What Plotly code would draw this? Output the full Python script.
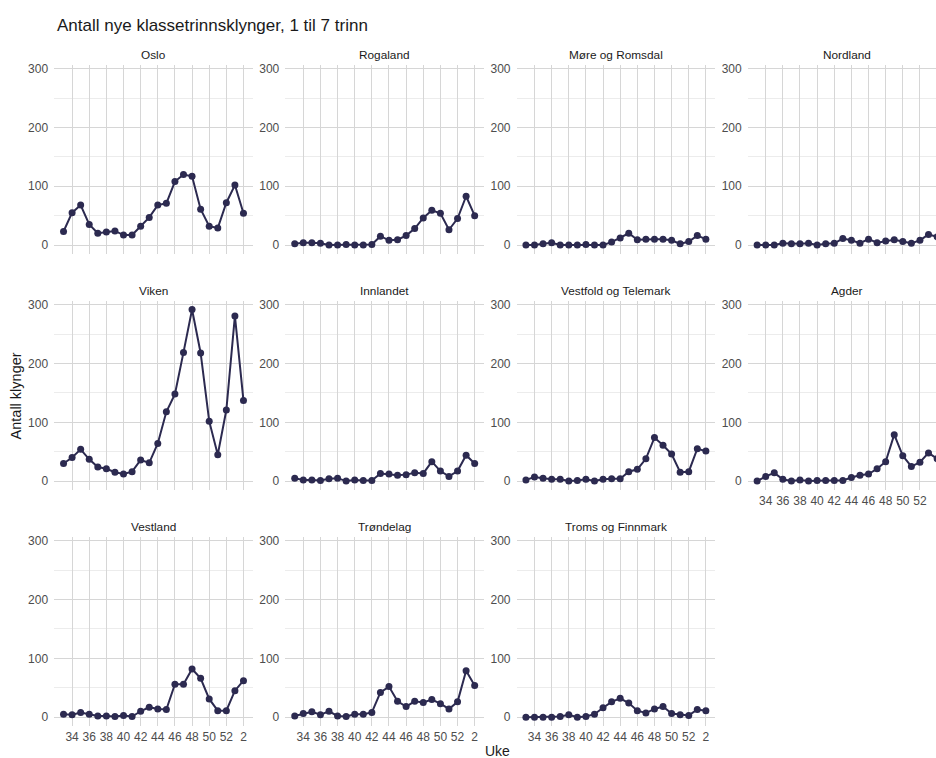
import plotly.graph_objects as go

# ---- data ----
weeks = ["33", "34", "35", "36", "37", "38", "39", "40", "41", "42", "43",
         "44", "45", "46", "47", "48", "49", "50", "51", "52", "1", "2"]
tick_weeks = ["34", "36", "38", "40", "42", "44", "46", "48", "50", "52", "2"]

regions = ["Oslo", "Rogaland", "Møre og Romsdal", "Nordland",
           "Viken", "Innlandet", "Vestfold og Telemark", "Agder",
           "Vestland", "Trøndelag", "Troms og Finnmark"]

oslo = [23, 55, 68, 35, 20, 22, 24, 17, 17, 32, 47, 68, 71, 108, 120, 117, 61, 32, 29, 72, 102, 54]
rogaland = [2, 4, 4, 3, 0, 0, 1, 0, 0, 1, 15, 8, 9, 16, 28, 46, 59, 54, 26, 45, 83, 50]
more_romsdal = [0, 0, 2, 4, 0, 0, 0, 1, 0, 0, 5, 12, 20, 9, 10, 10, 10, 8, 2, 6, 16, 10]
nordland = [0, 0, 0, 3, 2, 2, 3, 0, 2, 3, 11, 8, 3, 10, 4, 7, 9, 6, 3, 8, 18, 14]
viken = [30, 40, 54, 37, 24, 21, 15, 12, 16, 36, 31, 64, 118, 148, 219, 292, 218, 102, 45, 121, 281, 137]
innlandet = [5, 2, 2, 1, 4, 5, 0, 2, 1, 1, 13, 12, 10, 11, 14, 13, 33, 17, 8, 17, 44, 30]
vestfold_telemark = [2, 7, 5, 3, 3, 0, 1, 3, 0, 3, 4, 4, 16, 20, 38, 74, 61, 46, 15, 16, 55, 51]
agder = [0, 8, 14, 3, 0, 2, 0, 1, 1, 1, 1, 6, 10, 12, 21, 33, 79, 43, 25, 32, 48, 38]
vestland = [5, 4, 8, 5, 2, 2, 1, 3, 1, 10, 17, 14, 13, 56, 56, 82, 66, 31, 11, 11, 45, 62]
trondelag = [2, 6, 9, 4, 10, 2, 1, 5, 5, 8, 42, 52, 27, 18, 27, 25, 30, 23, 14, 26, 79, 54]
troms_finnmark = [0, 0, 0, 0, 1, 4, 0, 1, 5, 16, 26, 32, 24, 11, 7, 14, 18, 6, 4, 3, 13, 11]

series = [oslo, rogaland, more_romsdal, nordland, viken, innlandet,
          vestfold_telemark, agder, vestland, trondelag, troms_finnmark]

title_text = "Antall nye klassetrinnsklynger, 1 til 7 trinn"
y_title = "Antall klynger"
x_title = "Uke"

# ---- layout geometry (pixels) ----
W, H = 936, 758
col_centers = [153.5, 384.7, 615.9, 847.1]
half_w = 99.4
rows_px = [(62.1, 251.6), (299.1, 488.6), (536.1, 725.6)]
x_lo, x_hi = -1.1, 22.1
px_per_unit = (2 * half_w) / (x_hi - x_lo)
y_range = [-14.6, 306.6]

LINE_COL = "#2c2a50"
GRID_MAJ = "#d6d6d6"
GRID_MIN = "#ececec"
FONT = "Liberation Sans, Arial, sans-serif"

fig = go.Figure()
layout = dict(
    width=W, height=H,
    margin=dict(l=0, r=0, t=0, b=0),
    paper_bgcolor="white", plot_bgcolor="white",
    showlegend=False,
    font=dict(family=FONT, color="#4d4d4d"),
)
annotations = []

# which panel in each column is the bottom one (shows x tick labels)
bottom_index = {0: 8, 1: 9, 2: 10, 3: 7}

for i, (name, vals) in enumerate(zip(regions, series)):
    r, c = divmod(i, 4)
    ax = "" if i == 0 else str(i + 1)
    left = col_centers[c] - half_w
    right = col_centers[c] + half_w
    xr_hi = x_hi
    if right > W:
        xr_hi = x_lo + (W - left) / px_per_unit
        right = W
    top, bot = rows_px[r]
    fig.add_trace(go.Scatter(
        x=weeks, y=vals, mode="lines+markers",
        line=dict(color=LINE_COL, width=2),
        marker=dict(color=LINE_COL, size=7),
        xaxis="x" + ax, yaxis="y" + ax,
        hoverinfo="x+y",
    ))
    show_x = bottom_index[c] == i
    layout["xaxis" + ax] = dict(
        domain=[left / W, right / W],
        anchor="y" + ax,
        type="category",
        categoryorder="array", categoryarray=weeks,
        range=[x_lo, xr_hi],
        tickmode="array", tickvals=tick_weeks, ticktext=tick_weeks,
        showticklabels=show_x,
        showgrid=True, gridcolor=GRID_MAJ, gridwidth=1.2,
        zeroline=False, showline=False, ticks="",
        ticklabelstandoff=2,
        tickfont=dict(size=12, color="#4d4d4d", family=FONT),
        fixedrange=True,
    )
    layout["yaxis" + ax] = dict(
        domain=[1 - bot / H, 1 - top / H],
        anchor="x" + ax,
        range=y_range,
        tickmode="array", tickvals=[0, 100, 200, 300],
        showgrid=True, gridcolor=GRID_MAJ, gridwidth=1.2,
        minor=dict(tickmode="array", tickvals=[50, 150, 250],
                   showgrid=True, gridcolor=GRID_MIN, gridwidth=1),
        zeroline=False, showline=False, ticks="",
        ticklabelstandoff=5,
        tickfont=dict(size=12, color="#4d4d4d", family=FONT),
        fixedrange=True,
    )
    annotations.append(dict(
        text=name, xref="paper", yref="paper",
        x=col_centers[c] / W, y=1 - (top - 10) / H,
        xanchor="center", yanchor="middle", showarrow=False,
        font=dict(size=11.8, color="#1a1a1a", family=FONT),
    ))

annotations.append(dict(
    text=title_text, xref="paper", yref="paper",
    x=55 / W, y=1 - 23 / H, xanchor="left", yanchor="middle",
    showarrow=False, font=dict(size=17, color="#1a1a1a", family=FONT),
))
annotations.append(dict(
    text=y_title, xref="paper", yref="paper",
    x=16 / W, y=1 - 395 / H, xanchor="center", yanchor="middle",
    textangle=-90, showarrow=False,
    font=dict(size=14.5, color="#1a1a1a", family=FONT),
))
annotations.append(dict(
    text=x_title, xref="paper", yref="paper",
    x=497 / W, y=1 - 751 / H, xanchor="center", yanchor="middle",
    showarrow=False, font=dict(size=14, color="#1a1a1a", family=FONT),
))
layout["annotations"] = annotations

fig.update_layout(**layout)
fig.write_html("out.html")
